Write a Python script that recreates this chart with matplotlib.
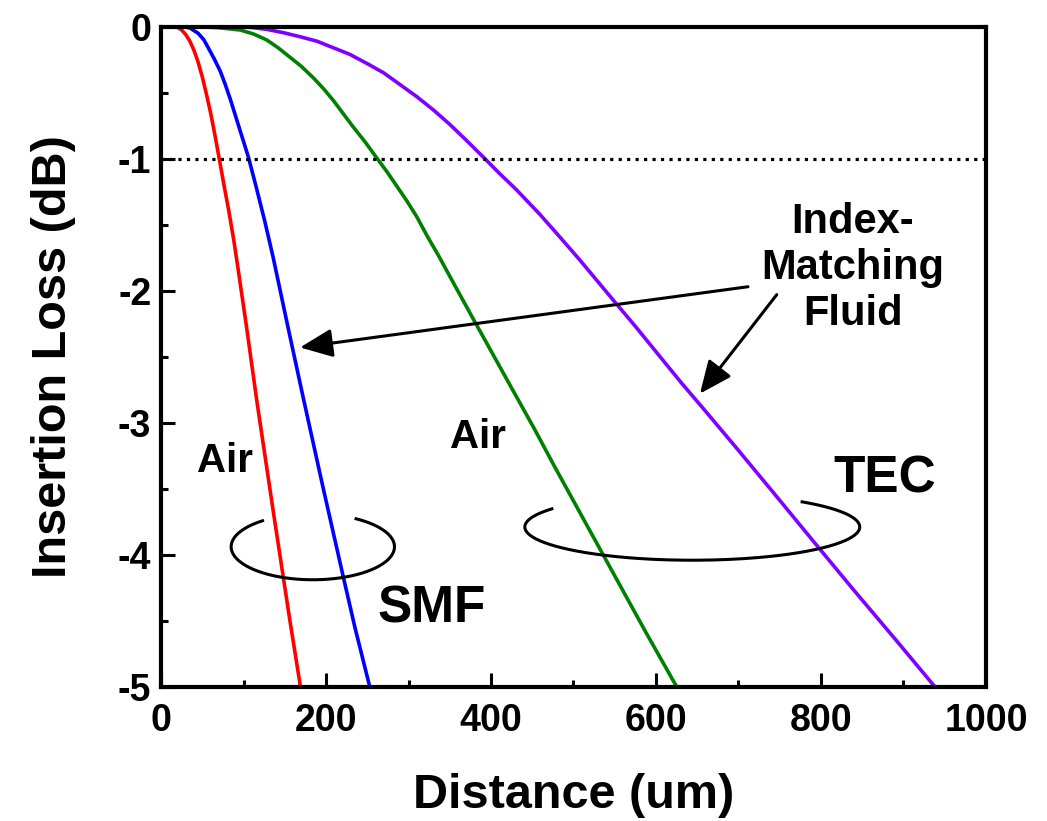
import numpy as np
import matplotlib
matplotlib.use('Agg')
import matplotlib.pyplot as plt
from matplotlib.ticker import MultipleLocator

plt.rcParams['font.family'] = ['Liberation Sans', 'DejaVu Sans']
plt.rcParams['font.weight'] = 'bold'
plt.rcParams['axes.unicode_minus'] = False

# values (distance in um, loss in dB)
smf_air_x = [0, 15, 20, 25, 30, 35, 40, 45, 50, 55, 60, 65, 70, 76, 82, 88, 94, 104, 116, 136, 156, 169]
smf_air_y = [0, 0, -0.005, -0.025, -0.06, -0.11, -0.18, -0.27, -0.38, -0.51, -0.65, -0.81, -0.98,
             -1.19, -1.39, -1.61, -1.86, -2.29, -2.83, -3.67, -4.49, -5.0]

smf_imf_x = [0, 27, 35, 45, 52, 59, 65, 72, 78, 84, 90, 96, 106, 116, 126, 136, 154, 172, 196,
             221, 235, 253]
smf_imf_y = [0, 0, -0.01, -0.05, -0.10, -0.18, -0.25, -0.34, -0.44, -0.55, -0.67, -0.79, -0.99,
             -1.23, -1.48, -1.75, -2.28, -2.80, -3.48, -4.17, -4.55, -5.0]

tec_air_x = [0, 47, 70, 96, 112, 128, 142, 156, 170, 185, 197, 209, 221, 233, 247, 261, 274, 286,
             298, 310, 323, 336, 357, 379, 403, 427, 452, 476, 498, 520, 550, 587, 625]
tec_air_y = [0, 0, -0.008, -0.025, -0.055, -0.10, -0.16, -0.23, -0.30, -0.39, -0.47, -0.56, -0.66,
             -0.76, -0.87, -0.99, -1.10, -1.21, -1.32, -1.44, -1.59, -1.73, -1.97, -2.22, -2.49,
             -2.76, -3.04, -3.32, -3.57, -3.82, -4.16, -4.58, -5.0]

tec_imf_x = [0, 80, 108, 128, 148, 168, 189, 209, 229, 250, 270, 290, 310, 330, 350, 370, 391,
             410, 430, 459, 483, 508, 528, 548, 575, 601, 631, 661, 700, 745, 791, 840, 890, 938]
tec_imf_y = [0, 0, -0.005, -0.02, -0.045, -0.075, -0.11, -0.16, -0.21, -0.28, -0.35, -0.44, -0.53,
             -0.63, -0.74, -0.86, -0.99, -1.11, -1.23, -1.42, -1.59, -1.77, -1.92, -2.07, -2.27,
             -2.47, -2.70, -2.92, -3.21, -3.55, -3.90, -4.27, -4.64, -5.0]

x_ticks = [0, 200, 400, 600, 800, 1000]
y_ticks = [0, -1, -2, -3, -4, -5]

fig = plt.figure(figsize=(10.47, 8.21), dpi=100)
ax = fig.add_axes([0.1538, 0.1636, 0.7879, 0.8039])

ax.plot(smf_air_x, smf_air_y, color='#ff0000', lw=2.6)
ax.plot(smf_imf_x, smf_imf_y, color='#0000ff', lw=2.6)
ax.plot(tec_air_x, tec_air_y, color='#008000', lw=2.6)
ax.plot(tec_imf_x, tec_imf_y, color='#8000ff', lw=2.6)

ax.axhline(-1, color='black', ls=':', lw=2.3)

ax.set_xlim(0, 1000)
ax.set_ylim(-5, 0)
ax.set_xticks(x_ticks)
ax.set_yticks(y_ticks)
ax.xaxis.set_minor_locator(MultipleLocator(100))
ax.yaxis.set_minor_locator(MultipleLocator(0.5))
ax.tick_params(which='both', direction='in', width=2.2, top=False, right=False)
ax.tick_params(which='major', length=10, labelsize=27)
ax.tick_params(which='minor', length=5)
ax.tick_params(axis='x', pad=12)
ax.tick_params(axis='y', pad=7)
for s in ax.spines.values():
    s.set_linewidth(3)

ax.set_xlabel('Distance (um)', fontsize=35, fontweight='bold', labelpad=24)
ax.set_ylabel('Insertion Loss (dB)', fontsize=35, fontweight='bold', labelpad=30)

# open ellipses grouping the curves
def open_ellipse(cx, cy, a, b, t1, t2):
    t = np.radians(np.linspace(t1, t2, 200))
    ax.plot(cx + a * np.cos(t), cy + b * np.sin(t), color='black', lw=2.2)

open_ellipse(184, -3.94, 99, 0.25, 128, 418)
open_ellipse(644, -3.79, 203, 0.252, 147, 409)

ax.text(77.6, -3.37, 'Air', fontsize=29, ha='center', va='baseline')
ax.text(384, -3.19, 'Air', fontsize=29, ha='center', va='baseline')
ax.text(328.5, -4.51, 'SMF', fontsize=37, ha='center', va='baseline')
ax.text(877.6, -3.53, 'TEC', fontsize=37, ha='center', va='baseline')
ax.text(838.8, -2.26, 'Index-\nMatching\nFluid', fontsize=30, ha='center',
        va='baseline', multialignment='center')

arrow = dict(arrowstyle='-|>,head_length=0.8,head_width=0.35', mutation_scale=25,
             color='black', lw=2.2, shrinkA=0, shrinkB=0)
ax.annotate('', xy=(168.5, -2.43), xytext=(711.5, -1.97), arrowprops=arrow)
ax.annotate('', xy=(653.3, -2.78), xytext=(746.4, -2.03), arrowprops=arrow)

fig.savefig('out.png', dpi=100)
